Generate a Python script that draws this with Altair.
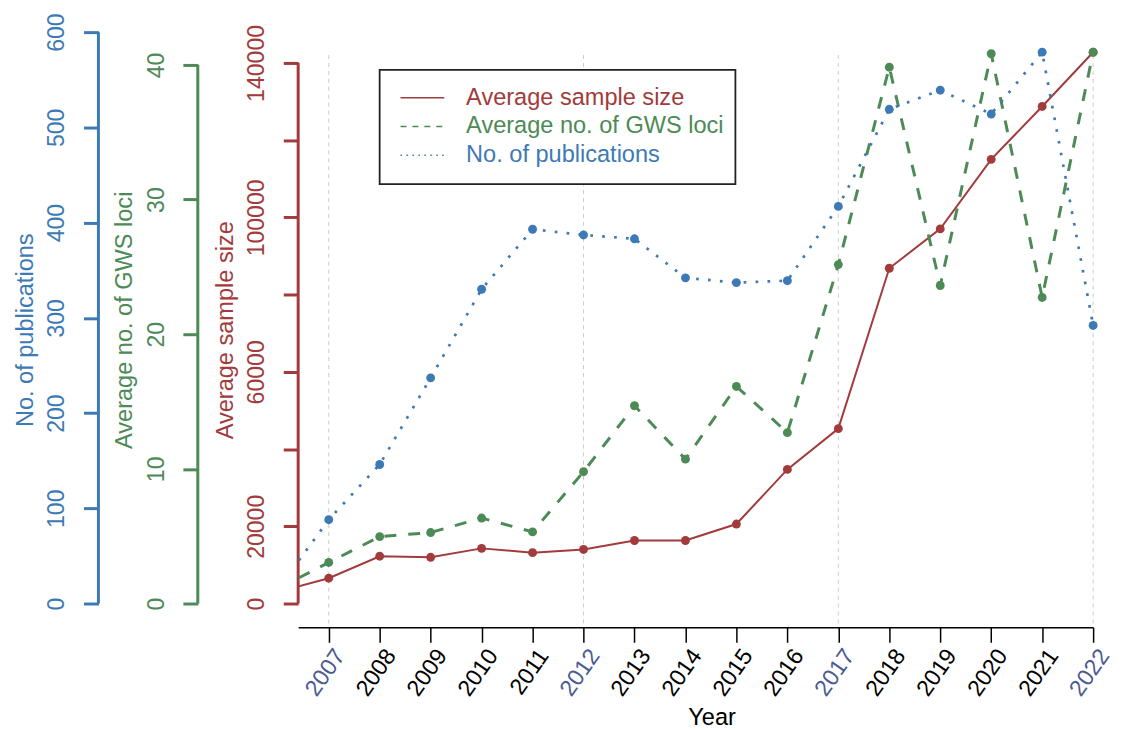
import altair as alt
import pandas as pd

# ---------------- data ----------------
years = list(range(2006, 2023))
sample_size = [2960, 6560, 12250, 11970, 14280, 13180, 14000, 16320, 16320,
               20590, 34740, 45290, 86830, 97020, 115040, 128730, 142780]
gws_loci = [1.1, 3.05, 4.97, 5.27, 6.35, 5.32, 9.79, 14.69, 10.72,
            16.12, 12.69, 25.17, 39.83, 23.62, 40.83, 22.73, 40.94]
publications = [15, 88, 146, 237, 330, 393, 387, 383, 342,
                337, 339, 417, 519, 539, 514, 579, 292]

x_ticks = list(range(2007, 2023))
grid_years = [2007, 2012, 2017, 2022]
blue_ticks = [0, 100, 200, 300, 400, 500, 600]
green_ticks = [0, 10, 20, 30, 40]
red_ticks = [0, 20000, 40000, 60000, 80000, 100000, 120000, 140000]

legend_labels = ["Average sample size", "Average no. of GWS loci", "No. of publications"]

# ---------------- styling ----------------
RED = "#A23B3B"
GREEN = "#4C8A56"
BLUE = "#3D7AB5"
SLATE = "#4B5B92"
FONT = "Liberation Sans"
TICK_FS = 23.2
TITLE_FS = 23.7
W, H = 800, 599

df = pd.DataFrame({"year": years, "sample": sample_size,
                   "loci": gws_loci, "pubs": publications})

x_axis = alt.Axis(
    values=x_ticks, format="d", title="Year", grid=False,
    domainColor="black", domainWidth=1.5,
    tickColor="black", tickWidth=1.5, tickSize=15,
    labelAngle=305, labelAlign="right", labelBaseline="middle",
    labelPadding=9, labelOffset=11, labelFontSize=TICK_FS, labelFont=FONT,
    labelColor={"condition": {"test": "datum.value % 5 == 2", "value": SLATE},
                "value": "black"},
    labelFlush=False, labelOverlap=False,
    titleFont=FONT, titleFontSize=TITLE_FS, titleFontWeight="normal",
    titleColor="black", titlePadding=6, titleX=416,
)
x_scale = alt.Scale(domain=[2006.4, 2022], nice=False, zero=False)


def xenc():
    return alt.X("year:Q", scale=x_scale, axis=x_axis)


def y_axis(ticks, color, title, offset, label_expr=None, title_y=None):
    kw = dict(
        orient="left", offset=offset, values=ticks, format="d", title=title,
        grid=False, domain=False,
        tickColor=color, tickWidth=3, tickSize=15,
        labelColor=color, labelFontSize=TICK_FS, labelFont=FONT,
        labelAngle=270, labelAlign="center", labelBaseline="alphabetic",
        labelPadding=20, labelOverlap=False, labelFlush=False,
        titleColor=color, titleFontSize=TITLE_FS, titleFont=FONT,
        titleFontWeight="normal", titlePadding=7.5,
    )
    if label_expr is not None:
        kw["labelExpr"] = label_expr
    if title_y is not None:
        kw["titleY"] = title_y
    return alt.Axis(**kw)


def series(field, ticks, domain, color, title, offset, dash, width,
           label_expr=None, title_y=None):
    scale = alt.Scale(domain=domain, nice=False, zero=False)
    ax = y_axis(ticks, color, title, offset, label_expr, title_y)
    line_kw = dict(color=color, strokeWidth=width, clip=True)
    if dash:
        line_kw["strokeDash"] = dash
    line = alt.Chart(df).mark_line(**line_kw).encode(
        x=xenc(), y=alt.Y(f"{field}:Q", scale=scale, axis=ax))
    pts = alt.Chart(df).transform_filter(alt.datum.year >= 2007).mark_circle(
        color=color, size=80, opacity=1).encode(
        x=xenc(), y=alt.Y(f"{field}:Q", scale=scale, axis=ax))
    axdf = pd.DataFrame({"lo": [ticks[0]], "hi": [ticks[-1]]})
    rule = alt.Chart(axdf).mark_rule(color=color, strokeWidth=3).encode(
        x=alt.value(-offset),
        y=alt.Y("lo:Q", scale=scale, axis=ax), y2="hi:Q")
    return alt.layer(line, pts, rule)


red_layer = series("sample", red_ticks, [-6176.5, 147978], RED,
                   "Average sample size", 0, None, 2,
                   label_expr="datum.value == 0 || (datum.value / 20000) % 2 == 1 ? datum.label : ''")
green_layer = series("loci", green_ticks, [-1.7712, 42.4354], GREEN,
                     "Average no. of GWS loci", 101, [12, 12], 3, title_y=289.5)
blue_layer = series("pubs", blue_ticks, [-25.043, 600], BLUE,
                    "No. of publications", 201, [2.7, 9.3], 2.7)

grid = alt.Chart(pd.DataFrame({"year": grid_years})).mark_rule(
    color="#cccccc", strokeDash=[4, 4], strokeWidth=1).encode(
    x=xenc(), y=alt.value(23), y2=alt.value(H))

# ---------------- legend (drawn as annotation) ----------------
dummy = pd.DataFrame({"a": [0]})
legend_colors = [RED, GREEN, BLUE]
legend_dashes = [None, [6, 6], [1.5, 4.5]]
legend_parts = [
    alt.Chart(dummy).mark_rect(fill="white", stroke="#222222", strokeWidth=1.8).encode(
        x=alt.value(82), x2=alt.value(440), y=alt.value(38), y2=alt.value(153))
]
for i, (lab, col, dsh) in enumerate(zip(legend_labels, legend_colors, legend_dashes)):
    yy = 66 + 29 * i
    rkw = dict(color=col, strokeWidth=1.5)
    if dsh:
        rkw["strokeDash"] = dsh
    legend_parts.append(alt.Chart(dummy).mark_rule(**rkw).encode(
        x=alt.value(103), x2=alt.value(147), y=alt.value(yy)))
    legend_parts.append(alt.Chart(dummy).mark_text(
        align="left", baseline="middle", font=FONT, fontSize=TITLE_FS, color=col).encode(
        x=alt.value(169), y=alt.value(yy), text=alt.value(lab)))

chart = alt.layer(grid, red_layer, green_layer, blue_layer, *legend_parts).resolve_scale(
    y="independent"
).properties(
    width=W, height=H,
    padding={"left": 5, "top": 2, "right": 0, "bottom": 0},
).configure_view(stroke=None)

chart.save("out.html", embed_options={"renderer": "svg", "actions": False})
